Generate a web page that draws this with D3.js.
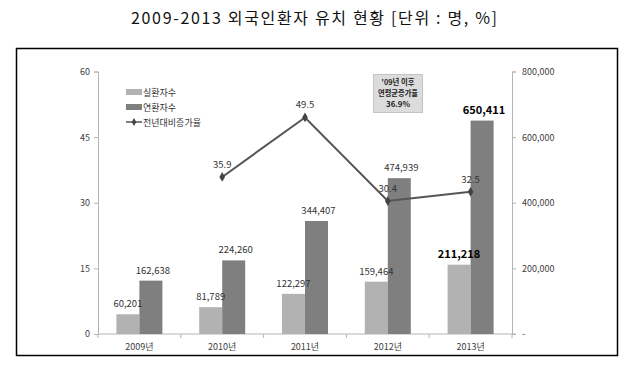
<!DOCTYPE html>
<html><head><meta charset="utf-8">
<script src="https://cdn.jsdelivr.net/npm/d3@7/dist/d3.min.js"></script>
<style>body{margin:0;background:#fff;} text{font-family:"Noto Sans CJK KR","Noto Sans",sans-serif;}</style>
</head><body><svg id="c" width="628" height="368"></svg>
<script>
const years = ["2009년","2010년","2011년","2012년","2013년"];
const realPatients = [60201, 81789, 122297, 159464, 211218];
const totalPatients = [162638, 224260, 344407, 474939, 650411];
const growthRate = [null, 35.9, 49.5, 30.4, 32.5];
const leftTicks = [0, 15, 30, 45, 60];
const rightTicks = [0, 200000, 400000, 600000, 800000];
const seriesNames = ["실환자수", "연환자수", "전년대비증가율"];
const title = "2009-2013 외국인환자 유치 현황 [단위 : 명, %]";
const noteLines = ["'09년 이후", "연평균증가율", "36.9%"];

const svg = d3.select("#c");
svg.append("rect").attr("width",628).attr("height",368).attr("fill","#fff");
svg.append("text").attr("x",314).attr("y",24).attr("text-anchor","middle")
  .attr("font-size",16).attr("fill","#111")
  .attr("textLength",366).attr("lengthAdjust","spacing").text(title);
svg.append("rect").attr("x",16.5).attr("y",48.5).attr("width",601).attr("height",307)
  .attr("fill","none").attr("stroke","#000").attr("stroke-width",1.5);

const L = 98, R = 512, T = 71.5, B = 334;
const x = d3.scaleBand().domain(years).range([L,R]).paddingInner(0).paddingOuter(0);
const x1 = d3.scaleBand().domain(["real","total"]).range([0,x.bandwidth()]).paddingOuter(0.8).paddingInner(0);
const yL = d3.scaleLinear().domain([0,60]).range([B,T]);
const yR = d3.scaleLinear().domain([0,800000]).range([B,T]);

const axisColor = "#b4b4b4", labelColor = "#404040";
const gl = svg.append("g").attr("transform",`translate(${L},0)`)
  .call(d3.axisLeft(yL).tickValues(leftTicks).tickSize(4).tickPadding(4));
const gr = svg.append("g").attr("transform",`translate(${R},0)`)
  .call(d3.axisRight(yR).tickValues(rightTicks).tickSize(4).tickPadding(6)
    .tickFormat(d => d === 0 ? "-" : d3.format(",")(d)));
const gx = svg.append("g").attr("transform",`translate(0,${B})`)
  .call(d3.axisBottom(x).tickSize(0).tickPadding(10));
[gl,gr,gx].forEach(g=>{
  g.selectAll(".domain").attr("stroke",axisColor);
  g.selectAll(".tick line").attr("stroke",axisColor);
  g.selectAll("text").attr("fill",labelColor).attr("font-size",9)
   .attr("font-family",'"Noto Sans CJK KR","Noto Sans",sans-serif');
});
gx.select(".domain").remove();
gx.append("line").attr("x1",L).attr("x2",R+4).attr("stroke",axisColor);
gx.selectAll(".bnd").data(d3.range(years.length+1)).enter().append("line")
  .attr("x1",i=>L+i*x.bandwidth()).attr("x2",i=>L+i*x.bandwidth())
  .attr("y1",0).attr("y2",4).attr("stroke",axisColor);

const rows = years.map((y,i)=>({year:y, real:realPatients[i], total:totalPatients[i], g:growthRate[i], i}));
const colors = {real:"#b2b2b2", total:"#7f7f7f"};
const bars = svg.append("g");
["real","total"].forEach(k=>{
  bars.selectAll(".b"+k).data(rows).enter().append("rect")
    .attr("x",d=>x(d.year)+x1(k)).attr("width",x1.bandwidth())
    .attr("y",d=>yR(d[k])).attr("height",d=>B-yR(d[k])).attr("fill",colors[k]);
});

const pts = rows.filter(d=>d.g!==null);
const cx = d=>x(d.year)+x.bandwidth()/2;
svg.append("path").datum(pts)
  .attr("d",d3.line().x(cx).y(d=>yL(d.g)))
  .attr("fill","none").attr("stroke","#555").attr("stroke-width",2);
svg.selectAll(".mk").data(pts).enter().append("path")
  .attr("transform",d=>`translate(${cx(d)},${yL(d.g)})`)
  .attr("d",d3.symbol().type(d3.symbolDiamond).size(28)).attr("fill","#444");

["real","total"].forEach(k=>{
  svg.selectAll(".t"+k).data(rows).enter().append("text")
    .attr("x",d=>x(d.year)+x1(k)+x1.bandwidth()/2+(k==="total"?2:0))
    .attr("y",d=>yR(d[k])-7).attr("text-anchor","middle")
    .attr("font-size",d=>d.i===4?11:9.5)
    .attr("font-weight",d=>d.i===4?"bold":"normal")
    .attr("fill",d=>d.i===4?"#000":"#333")
    .text(d=>d3.format(",")(d[k]));
});
svg.selectAll(".gl").data(pts).enter().append("text")
  .attr("x",d=>cx(d)).attr("y",d=>yL(d.g)-9).attr("text-anchor","middle")
  .attr("font-size",9.5).attr("fill","#333").text(d=>d.g.toFixed(1));

const lg = svg.append("g");
[0,1].forEach(i=>{
  lg.append("rect").attr("x",126).attr("y",89+i*15).attr("width",16).attr("height",6)
    .attr("fill",i===0?colors.real:colors.total);
});
lg.append("line").attr("x1",126).attr("x2",142).attr("y1",122).attr("y2",122)
  .attr("stroke","#555").attr("stroke-width",1.5);
lg.append("path").attr("transform","translate(134,122)")
  .attr("d",d3.symbol().type(d3.symbolDiamond).size(18)).attr("fill","#444");
seriesNames.forEach((s,i)=>{
  lg.append("text").attr("x",143).attr("y",92+i*15+3.5).attr("font-size",9)
    .attr("fill","#333").text(s);
});

svg.append("rect").attr("x",373.5).attr("y",74.5).attr("width",49).attr("height",38)
  .attr("fill","#dcdcdc").attr("stroke","#999").attr("stroke-dasharray","1,1");
const noteW = [33, 40, 24];
noteLines.forEach((t,i)=>{
  svg.append("text").attr("x",398).attr("y",85+i*11).attr("text-anchor","middle")
    .attr("font-size",7.6).attr("font-weight","bold").attr("fill","#222")
    .attr("textLength",noteW[i]).attr("lengthAdjust","spacingAndGlyphs").text(t);
});
</script></body></html>
